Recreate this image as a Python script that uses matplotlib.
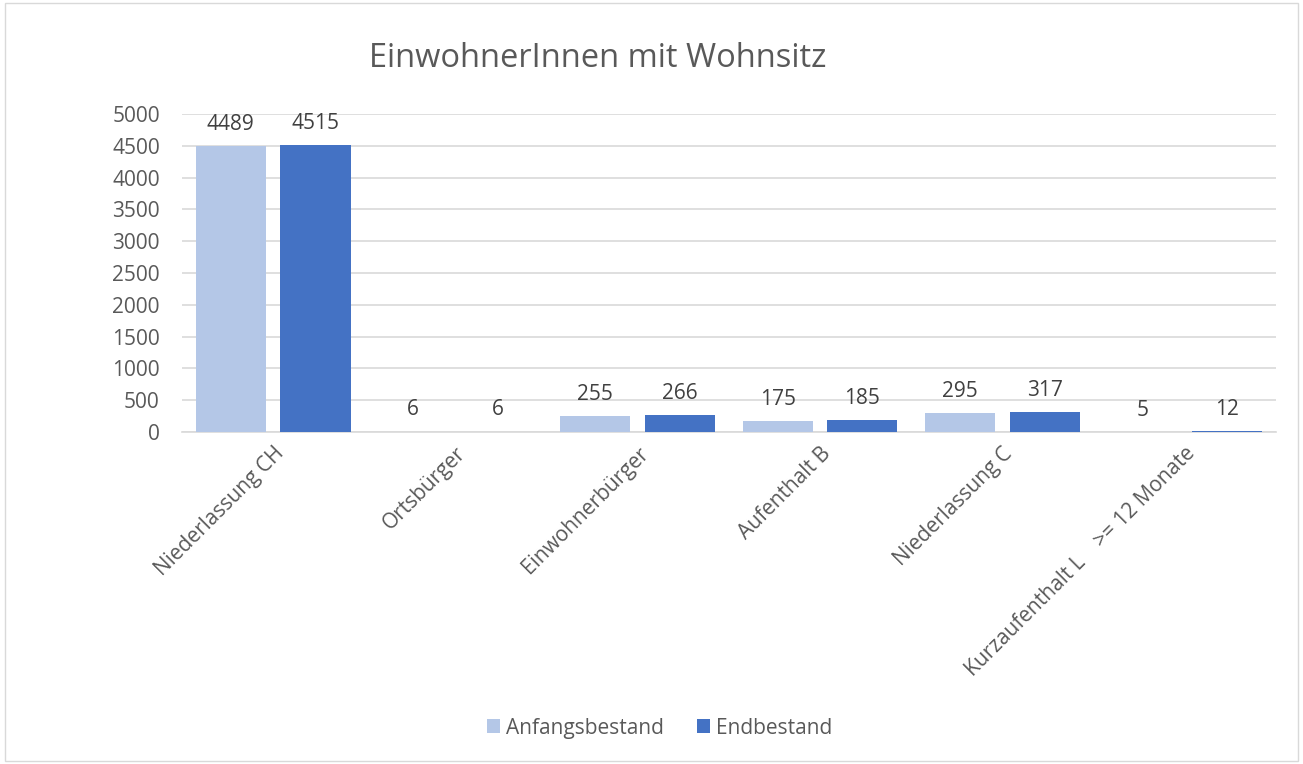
import matplotlib
matplotlib.use("Agg")
import matplotlib.pyplot as plt
import numpy as np
from matplotlib.patches import Rectangle

categories = ["Niederlassung CH", "Ortsbürger", "Einwohnerbürger", "Aufenthalt B",
              "Niederlassung C", "Kurzaufenthalt L    >= 12 Monate"]
anfang = [4489, 6, 255, 175, 295, 5]
end = [4515, 6, 266, 185, 317, 12]
series_names = ["Anfangsbestand", "Endbestand"]
yticks = [0, 500, 1000, 1500, 2000, 2500, 3000, 3500, 4000, 4500, 5000]

plt.rcParams['font.family'] = ['Open Sans', 'DejaVu Sans']
txt = '#595959'
fs = 15

fig = plt.figure(figsize=(13.03, 7.64), dpi=100)
ax = fig.add_axes([0.1397, 0.4346, 0.8393, 0.4162])

x = np.arange(len(categories))
w = 0.385
gap = 0.08
b1 = ax.bar(x - (w + gap) / 2, anfang, w, color='#B4C7E7', label=series_names[0], zorder=3)
b2 = ax.bar(x + (w + gap) / 2, end, w, color='#4472C4', label=series_names[1], zorder=3)

for bars, vals in ((b1, anfang), (b2, end)):
    for r, v in zip(bars, vals):
        ax.annotate(str(v), (r.get_x() + r.get_width() / 2, v), xytext=(0, 8),
                    textcoords='offset points', ha='center', va='bottom',
                    fontsize=fs, color='#404040')

ax.set_xlim(-0.5, len(categories) - 0.5)
ax.set_ylim(0, 5000)
ax.set_yticks(yticks)
ax.set_yticklabels([str(t) for t in yticks], fontsize=fs, color=txt)
ax.yaxis.grid(True, color='#d9d9d9', linewidth=1.2, zorder=0)
ax.tick_params(axis='both', length=0)
ax.tick_params(axis='y', pad=16)
for s in ['left', 'right', 'top']:
    ax.spines[s].set_visible(False)
ax.spines['bottom'].set_color('#d9d9d9')
ax.spines['bottom'].set_linewidth(1.2)

ax.set_xticks(x)
ax.set_xticklabels(categories, rotation=45, ha='right', va='top',
                   rotation_mode='anchor', fontsize=fs, color=txt)
ax.tick_params(axis='x', pad=8)

fig.text(0.459, 0.924, "EinwohnerInnen mit Wohnsitz", ha='center', va='center',
         fontsize=23.5, color=txt)

leg = fig.legend(handles=[b1, b2], labels=series_names, loc='center',
                 bbox_to_anchor=(0.506, 0.047), ncol=2, frameon=False,
                 fontsize=fs, handlelength=0.65, handleheight=0.65,
                 handletextpad=0.25, columnspacing=1.6)
for t in leg.get_texts():
    t.set_color(txt)

fig.patches.append(Rectangle((0.004, 0.004), 0.992, 0.992, transform=fig.transFigure,
                             fill=False, edgecolor='#d9d9d9', linewidth=1))

fig.savefig("out.png", dpi=100)
